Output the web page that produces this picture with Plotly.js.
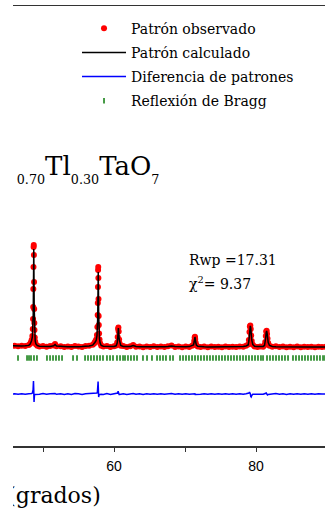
<!DOCTYPE html>
<html>
<head>
<meta charset="utf-8">
<script src="https://cdn.plot.ly/plotly-3.0.1.min.js"></script>
<style>
  html, body { margin: 0; padding: 0; background: #fff; width: 325px; height: 510px; overflow: hidden; }
  #clip { position: absolute; left: 13px; top: 0; width: 312px; height: 510px; overflow: hidden; }
  #chart { position: absolute; left: -53px; top: 0; width: 387px; height: 510px; }
</style>
</head>
<body>
<div id="clip"><div id="chart"></div></div>
<script>
// 2-theta grid (degrees)
const twoTheta = [
  44.0, 44.5, 45.0, 45.5, 46.0, 46.5, 47.0, 47.5, 48.0,
  48.2, 48.3, 48.4, 48.5, 48.56, 48.60, 48.62, 48.64, 48.66, 48.68, 48.70, 48.72, 48.74, 48.76, 48.78, 48.80, 48.84, 48.90, 49.0, 49.2,
  49.5, 50.0, 50.5, 51.0, 51.5, 51.7, 51.9, 52.5, 53.0, 53.5, 54.0, 54.5, 55.0, 55.5, 56.0, 56.5, 57.0,
  57.2, 57.3, 57.4, 57.5, 57.6, 57.66, 57.70, 57.72, 57.74, 57.76, 57.78, 57.80, 57.82, 57.84, 57.86, 57.90, 57.96, 58.05, 58.2,
  58.5, 59.0, 59.5, 60.0, 60.3,
  60.45, 60.52, 60.58, 60.62, 60.66, 60.72, 60.80, 60.95,
  61.3, 61.8, 62.3, 62.7, 63.1, 63.6, 64.1, 64.6, 65.1, 65.6, 66.1, 66.6, 67.1, 67.6, 68.1, 68.6, 69.1, 69.6, 70.1, 70.6, 71.0,
  71.2, 71.3, 71.36, 71.40, 71.44, 71.50, 71.6, 71.8,
  72.2, 72.7, 73.2, 73.7, 74.2, 74.7, 75.2, 75.7, 76.2, 76.7, 77.2, 77.7, 78.2, 78.6, 78.9,
  79.0, 79.08, 79.14, 79.20, 79.26, 79.32, 79.40, 79.55, 79.8,
  80.2, 80.6, 81.0, 81.2,
  81.3, 81.38, 81.44, 81.50, 81.56, 81.62, 81.72, 81.9,
  82.3, 82.8, 83.3, 83.8, 84.3, 84.8, 85.3, 85.8, 86.3, 86.8, 87.3, 87.8, 88.3, 88.8, 89.3, 89.8, 90.0
];
// Observed intensity (counts)
const yObs = [
  520, 512, 517, 510, 513, 507, 512, 510, 519,
  532, 548, 570, 610, 680, 780, 900, 1080, 1300, 1500, 1520, 1420, 1150, 880, 740, 670, 595, 555, 528, 512,
  505, 510, 502, 509, 515, 530, 507, 508, 500, 506, 499, 510, 505, 500, 509, 513, 522,
  534, 548, 560, 575, 620, 700, 820, 940, 1100, 1270, 1300, 1190, 980, 810, 720, 635, 575, 538, 512,
  504, 509, 500, 508, 515,
  545, 600, 680, 695, 655, 575, 535, 512,
  509, 500, 508, 520, 503, 506, 498, 505, 500, 507, 499, 504, 500, 508, 514, 501, 505, 498, 504, 501, 513,
  522, 560, 595, 602, 580, 545, 518, 505,
  500, 505, 498, 504, 499, 503, 498, 505, 499, 503, 500, 506, 502, 513, 524,
  570, 650, 705, 715, 680, 615, 560, 522, 506,
  501, 506, 503, 518,
  550, 610, 655, 662, 630, 585, 540, 512,
  502, 507, 499, 504, 498, 503, 497, 504, 498, 502, 499, 503, 497, 502, 499, 503, 500
];
// Calculated intensity (counts)
const yCalc = [
  518, 516, 514, 512, 511, 510, 510, 512, 516,
  530, 545, 565, 600, 660, 740, 820, 960, 1150, 1400, 1480, 1380, 1120, 900, 760, 680, 600, 560, 530, 515,
  508, 506, 505, 506, 512, 525, 510, 505, 504, 503, 503, 506, 503, 504, 506, 510, 518,
  530, 545, 555, 570, 610, 680, 780, 880, 1020, 1180, 1250, 1180, 1000, 840, 730, 640, 580, 540, 515,
  508, 505, 504, 506, 512,
  540, 590, 660, 690, 650, 580, 540, 515,
  506, 504, 505, 515, 506, 503, 502, 503, 502, 504, 502, 502, 503, 505, 510, 504, 502, 501, 502, 504, 510,
  520, 555, 590, 600, 585, 550, 520, 507,
  503, 502, 501, 501, 502, 501, 501, 502, 501, 501, 502, 503, 505, 510, 520,
  560, 630, 690, 712, 690, 630, 570, 525, 508,
  504, 503, 506, 515,
  545, 600, 645, 660, 640, 595, 545, 515,
  505, 503, 502, 501, 502, 501, 500, 501, 500, 500, 501, 500, 500, 500, 500, 500, 500
];
// Difference curve (shifted, counts)
const yDiff = [
  32, 26, 33, 28, 32, 27, 32, 28, 33,
  32, 33, 35, 40, 50, 70, 100, 130, 160, 130, 70, -10, -50, -40, 0, 20, 25, 25, 28, 27,
  27, 34, 27, 33, 33, 35, 27, 33, 26, 33, 26, 34, 32, 26, 33, 33, 34,
  34, 33, 35, 35, 40, 50, 70, 90, 130, 155, 100, 40, 5, 0, 15, 25, 25, 28, 27,
  26, 34, 26, 32, 33,
  35, 40, 58, 35, 35, 25, 25, 27,
  33, 26, 33, 35, 27, 33, 26, 32, 28, 33, 27, 32, 27, 33, 34, 27, 33, 27, 32, 27, 33,
  32, 35, 35, 32, 25, 25, 28, 28,
  27, 33, 27, 33, 27, 32, 27, 33, 28, 32, 28, 33, 27, 33, 34,
  40, 50, 45, 33, 5, 0, 15, 27, 28,
  27, 33, 27, 33,
  35, 40, 40, 32, 20, 20, 25, 27,
  27, 34, 27, 33, 26, 32, 27, 33, 28, 32, 28, 33, 27, 32, 29, 33, 30
];
// Bragg reflection positions (degrees)
const braggPos = [
  46.48, 47.75, 48.03, 48.31, 48.73, 49.15,
  50.56, 50.99, 51.41, 51.83, 52.25, 52.68, 54.23, 54.79,
  55.92, 56.34, 56.76, 57.18, 57.61, 58.03, 58.45, 59.01, 59.44, 59.86, 60.42,
  60.85, 61.27, 61.55, 61.97, 62.39, 62.82, 63.24, 64.08, 64.65, 65.35,
  66.06, 66.48, 66.90, 67.32, 67.89, 68.31, 69.30, 69.72,
  70.14, 70.56, 70.99, 71.41, 71.83, 72.25, 72.68, 73.10, 73.52, 73.94, 74.37, 74.79, 75.21,
  75.63, 76.06, 76.48, 76.90, 77.32, 77.75, 78.17, 78.59, 79.01, 79.44, 79.86, 80.28, 80.70, 80.99,
  81.55, 81.97, 82.39, 82.82, 83.24, 83.66, 84.08, 84.51,
  85.21, 85.63, 86.06, 86.48, 86.90, 87.32, 87.75, 88.17, 88.59, 89.01, 89.44, 89.72
];
const braggLevel = 390;
const tickVals = [60, 80];
const tickLabels = ['60', '80'];
const minorTickVals = [50, 70, 90];
const seriesNames = ['Patrón observado', 'Patrón calculado', 'Diferencia de patrones', 'Reflexión de Bragg'];

const serif = 'DejaVu Serif, Liberation Serif, serif';
const sub = s => '<sub><sub>' + s + '</sub></sub>';

const traces = [
  { x: twoTheta, y: yObs, type: 'scatter', mode: 'markers', name: seriesNames[0], legendgroup: 'a',
    marker: { color: '#ff0000', size: 6, symbol: 'circle' } },
  { x: twoTheta, y: yCalc, type: 'scatter', mode: 'lines', name: seriesNames[1], legendgroup: 'b',
    line: { color: '#000000', width: 1.5 } },
  { x: twoTheta, y: yDiff, type: 'scatter', mode: 'lines', name: seriesNames[2], legendgroup: 'c',
    line: { color: '#0000ff', width: 1.5 } },
  { x: braggPos, y: braggPos.map(() => braggLevel), type: 'scatter', mode: 'markers', name: seriesNames[3], legendgroup: 'd',
    marker: { symbol: 'line-ns', size: 4, color: '#0a7a0a', line: { color: '#0a7a0a', width: 1.5 } } }
];

const layout = {
  width: 387, height: 510,
  margin: { l: 40, r: 20, t: 6, b: 64 },
  paper_bgcolor: '#ffffff', plot_bgcolor: '#ffffff',
  showlegend: true,
  legend: {
    x: 0.2355, y: 0.985, xanchor: 'left', yanchor: 'top',
    bgcolor: 'rgba(0,0,0,0)', borderwidth: 0,
    font: { family: serif, size: 14, color: '#000' },
    itemwidth: 44, tracegroupgap: 3
  },
  xaxis: {
    range: [43.944, 90], tickmode: 'array', tickvals: tickVals, ticktext: tickLabels,
    ticks: 'outside', ticklen: 4, tickwidth: 1, tickcolor: '#333', ticklabelstandoff: 3,
    minor: { tickmode: 'array', tickvals: minorTickVals, ticks: 'outside', ticklen: 4, tickwidth: 1, tickcolor: '#333', showgrid: false },
    showline: true, linecolor: '#333', linewidth: 1.5, mirror: true,
    showgrid: false, zeroline: false,
    tickfont: { family: 'Liberation Sans, Arial, sans-serif', size: 14, color: '#000' }
  },
  yaxis: { range: [-490, 3910], visible: false, showgrid: false, zeroline: false },
  annotations: [
    { xref: 'paper', yref: 'paper', x: 0.491, y: 0.63, xanchor: 'right', yanchor: 'middle', showarrow: false,
      text: 'Bi' + sub('2') + 'In\u2009' + sub('0.70') + 'Tl' + sub('0.30') + 'TaO' + sub('7'),
      font: { family: serif, size: 26, color: '#000' } },
    { xref: 'paper', yref: 'paper', x: 0.572, y: 0.4227, xanchor: 'left', yanchor: 'middle', showarrow: false,
      text: 'Rwp =17.31', font: { family: serif, size: 14, color: '#000' } },
    { xref: 'paper', yref: 'paper', x: 0.572, y: 0.3705, xanchor: 'left', yanchor: 'middle', showarrow: false,
      text: 'χ<sup>2</sup>= 9.37', font: { family: serif, size: 14, color: '#000' } },
    { xref: 'paper', yref: 'paper', x: 0.315, y: -0.1114, xanchor: 'right', yanchor: 'middle', showarrow: false,
      text: '2θ (grados)', font: { family: serif, size: 22, color: '#000' } }
  ]
};

Plotly.newPlot('chart', traces, layout, { displayModeBar: false, staticPlot: true });
</script>
</body>
</html>
